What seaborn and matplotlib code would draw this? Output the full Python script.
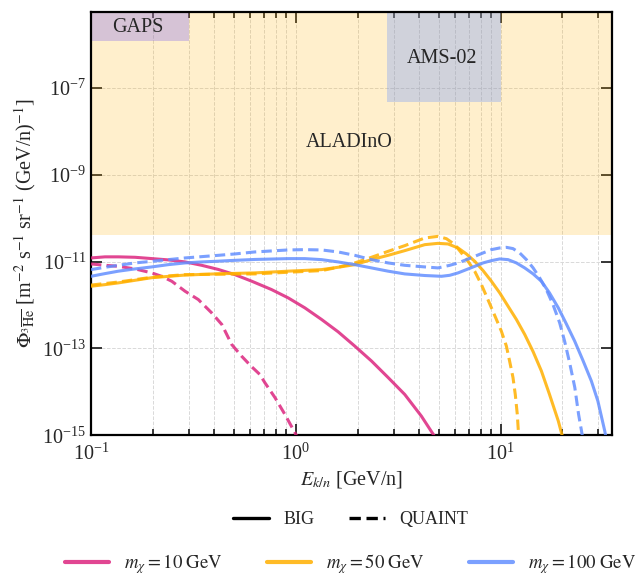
import numpy as np
import pandas as pd
import matplotlib
matplotlib.use("Agg")
import matplotlib.pyplot as plt
import seaborn as sns
from matplotlib.lines import Line2D
from matplotlib.ticker import NullFormatter, NullLocator, LogLocator

# ---------------- data (fluxes given as log10 values) ----------------
x_m10_big = [0.1, 0.117, 0.136, 0.164, 0.198, 0.238, 0.288, 0.347, 0.418, 0.504, 0.608, 0.761,
             0.917, 1.106, 1.335, 1.608, 1.94, 2.34, 2.82, 3.40, 4.10, 4.51, 4.9]
lg_m10_big = [-10.915, -10.89, -10.89, -10.90, -10.93, -10.96, -11.007, -11.085, -11.18, -11.30,
              -11.45, -11.644, -11.835, -12.065, -12.333, -12.617, -12.947, -13.29, -13.67,
              -14.06, -14.56, -14.86, -15.12]

x_m10_quaint = [0.1, 0.117, 0.136, 0.164, 0.198, 0.221, 0.248, 0.288, 0.334, 0.388, 0.435, 0.486,
                0.543, 0.608, 0.667, 0.706, 0.79, 0.884, 0.989, 1.03]
lg_m10_quaint = [-11.053, -11.085, -11.108, -11.168, -11.26, -11.338, -11.453, -11.683, -11.874,
                 -12.18, -12.448, -12.908, -13.177, -13.42, -13.60, -13.79, -14.13, -14.52,
                 -14.94, -15.1]

x_m50_big = [0.1, 0.117, 0.136, 0.198, 0.287, 0.418, 0.631, 0.917, 1.335, 1.608, 1.94, 2.34,
             2.82, 3.40, 4.26, 4.94, 5.53, 6.19, 6.80, 7.47, 8.20, 9.01, 9.89, 10.86, 11.93,
             13.1, 14.4, 15.8, 17.3, 19.1, 20.2]
lg_m50_big = [-11.567, -11.53, -11.49, -11.37, -11.31, -11.28, -11.26, -11.22, -11.184, -11.13,
              -11.07, -10.954, -10.855, -10.747, -10.609, -10.579, -10.593, -10.685, -10.823,
              -10.993, -11.207, -11.453, -11.72, -12.027, -12.333, -12.678, -13.076, -13.52,
              -14.057, -14.67, -15.1]

x_m50_quaint = [0.1, 0.136, 0.198, 0.287, 0.418, 0.631, 0.917, 1.335, 1.608, 1.94, 2.34, 2.82,
                3.40, 4.26, 4.94, 5.43, 5.97, 6.43, 6.93, 7.47, 8.05, 8.52, 9.01, 9.53, 10.07,
                10.66, 11.05, 11.48, 11.78, 12.05, 12.19, 12.3]
lg_m50_quaint = [-11.54, -11.47, -11.36, -11.30, -11.29, -11.283, -11.245, -11.207, -11.13,
                 -11.03, -10.90, -10.763, -10.632, -10.455, -10.418, -10.471, -10.609, -10.80,
                 -10.993, -11.223, -11.53, -11.797, -12.064, -12.333, -12.60, -12.947, -13.29,
                 -13.67, -14.06, -14.52, -14.90, -15.1]

x_m100_big = [0.1, 0.117, 0.136, 0.164, 0.198, 0.238, 0.288, 0.347, 0.418, 0.504, 0.631, 0.917,
              1.106, 1.335, 1.608, 1.94, 2.34, 2.82, 3.40, 4.26, 5.14, 5.64, 6.19, 6.80, 7.47,
              8.20, 9.01, 9.89, 10.86, 11.93, 13.1, 14.4, 15.8, 17.3, 19.1, 20.9, 22.96, 25.2,
              27.7, 29.8, 32.2, 32.8]
lg_m100_big = [-11.338, -11.276, -11.22, -11.168, -11.122, -11.07, -11.03, -11.007, -10.99,
               -10.97, -10.95, -10.931, -10.931, -10.954, -11.007, -11.07, -11.145, -11.22,
               -11.283, -11.32, -11.338, -11.315, -11.26, -11.184, -11.108, -11.03, -10.977,
               -10.938, -10.954, -11.03, -11.145, -11.283, -11.453, -11.72, -12.064, -12.432,
               -12.83, -13.276, -13.75, -14.21, -14.90, -15.1]

x_m100_quaint = [0.1, 0.117, 0.136, 0.164, 0.198, 0.238, 0.288, 0.347, 0.418, 0.504, 0.631,
                 0.917, 1.106, 1.335, 1.608, 1.94, 2.34, 2.82, 3.40, 4.26, 4.94, 5.64, 6.19,
                 6.80, 7.47, 8.20, 9.01, 9.89, 10.66, 11.48, 12.38, 13.35, 14.4, 15.5, 16.7,
                 18.0, 19.4, 20.5, 21.7, 23.0, 24.0, 24.8, 25.2]
lg_m100_quaint = [-11.184, -11.13, -11.085, -11.03, -10.993, -10.954, -10.915, -10.885, -10.855,
                  -10.823, -10.777, -10.731, -10.724, -10.731, -10.777, -10.855, -10.954, -11.03,
                  -11.085, -11.122, -11.145, -11.085, -11.03, -10.954, -10.878, -10.80, -10.724,
                  -10.685, -10.671, -10.70, -10.80, -10.954, -11.145, -11.375, -11.644, -11.989,
                  -12.41, -12.83, -13.33, -13.90, -14.52, -14.90, -15.1]

masses = ["10", "50", "100"]
models = ["BIG", "QUAINT"]

# experiment sensitivity regions
region_names = ["ALADInO", "GAPS", "AMS-02"]
region_x0 = [0.1, 0.1, 2.8]
region_x1 = [35.0, 0.3, 10.0]
region_y0 = [4.0e-11, 1.2e-6, 4.8e-8]
region_y1 = [5.6e-6, 5.6e-6, 5.6e-6]

y_ticks = [1e-15, 1e-13, 1e-11, 1e-9, 1e-7]

# ---------------- build long table ----------------
series = {
    ("10", "BIG"): (x_m10_big, lg_m10_big),
    ("10", "QUAINT"): (x_m10_quaint, lg_m10_quaint),
    ("50", "BIG"): (x_m50_big, lg_m50_big),
    ("50", "QUAINT"): (x_m50_quaint, lg_m50_quaint),
    ("100", "BIG"): (x_m100_big, lg_m100_big),
    ("100", "QUAINT"): (x_m100_quaint, lg_m100_quaint),
}
rows = []
for (m, mod), (xs, lys) in series.items():
    for xv, lv in zip(xs, lys):
        rows.append({"E": xv, "flux": 10.0 ** lv, "mass": m, "model": mod})
df = pd.DataFrame(rows)

# ---------------- style ----------------
sns.set_theme(style="ticks")
plt.rcParams["font.family"] = ["Liberation Serif", "DejaVu Serif"]
plt.rcParams["mathtext.fontset"] = "stix"

pal = {"10": "#DC267F", "50": "#FFB000", "100": "#648FFF"}
reg_col = {"ALADInO": ("#FFB000", 0.2), "GAPS": ("#785EF0", 0.3), "AMS-02": ("#648FFF", 0.3)}
dash_pat = (3.4, 1.7)

fig = plt.figure(figsize=(6.41, 5.78), dpi=100)
ax = fig.add_axes([0.142, 0.247, 0.813, 0.732])
ax.set_xscale("log")
ax.set_yscale("log")

for name, x0, x1, y0, y1 in zip(region_names, region_x0, region_x1, region_y0, region_y1):
    c, a = reg_col[name]
    ax.fill_between([x0, x1], [y0, y0], [y1, y1], color=c, alpha=a, lw=0, zorder=1)

sns.lineplot(data=df, x="E", y="flux", hue="mass", style="model", palette=pal,
             hue_order=masses, style_order=models,
             dashes={"BIG": "", "QUAINT": dash_pat}, estimator=None, sort=False,
             lw=2.2, alpha=0.85, legend=False, ax=ax, zorder=3)
for ln in ax.get_lines():
    ln.set_solid_joinstyle("round")
    ln.set_dash_joinstyle("round")

ax.set_xlim(0.1, 35)
ax.set_ylim(1e-15, 5.6e-6)
ax.set_yticks(y_ticks)
ax.yaxis.set_minor_locator(NullLocator())
ax.xaxis.set_minor_locator(LogLocator(base=10, subs=np.arange(2, 10)))
ax.xaxis.set_minor_formatter(NullFormatter())

ax.grid(True, which="both", axis="both", ls="--", lw=0.7, color="#d9d9d9", zorder=0)
ax.set_axisbelow(True)

ax.tick_params(which="both", direction="in", top=True, right=True, labelsize=14.5, width=1.3)
ax.tick_params(which="major", length=8)
ax.tick_params(which="minor", length=4)
ax.tick_params(axis="x", which="major", pad=6)
for s in ax.spines.values():
    s.set_linewidth(1.6)
    s.set_color("black")

ax.set_xlabel(r"$E_{k/n}$ [GeV/n]", fontsize=14.5, labelpad=3)
ax.set_ylabel(r"$\Phi_{{}^{3}\overline{\mathrm{He}}}$ [m$^{-2}$ s$^{-1}$ sr$^{-1}$ (GeV/n)$^{-1}$]",
              fontsize=14.5, labelpad=3)

ax.text(0.169, 2.5e-6, "GAPS", fontsize=14.5, ha="center", va="center", zorder=4)
ax.text(5.2, 4.9e-7, "AMS-02", fontsize=14.5, ha="center", va="center", zorder=4)
ax.text(1.83, 5.7e-9, "ALADInO", fontsize=14.5, ha="center", va="center", zorder=4)

# legends
h1 = [Line2D([], [], color="black", lw=2.4, ls="-"),
      Line2D([], [], color="black", lw=2.4, dashes=dash_pat)]
fig.legend(h1, models, loc="center", bbox_to_anchor=(0.547, 0.101), ncol=2, frameon=False,
           fontsize=13, handlelength=2.0, columnspacing=1.9, handletextpad=0.8)

h2 = [Line2D([], [], color=pal[m], lw=3, alpha=0.85) for m in masses]
l2 = [r"$m_\chi = " + m + r"\ \mathrm{GeV}$" for m in masses]
fig.legend(h2, l2, loc="center", bbox_to_anchor=(0.547, 0.024), ncol=3, frameon=False,
           fontsize=13.5, handlelength=2.3, columnspacing=2.4, handletextpad=0.8)

fig.savefig("out.png", dpi=100)
